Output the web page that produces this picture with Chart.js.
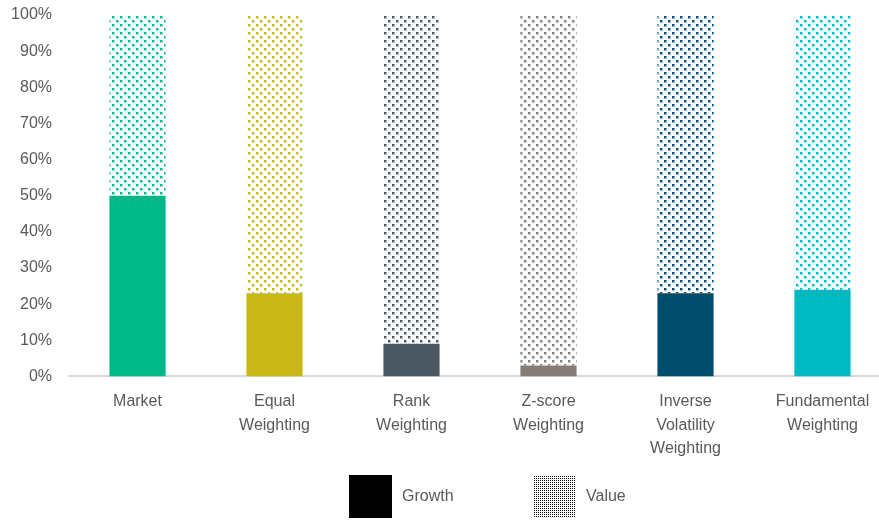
<!DOCTYPE html>
<html>
<head>
<meta charset="utf-8">
<script src="https://cdn.jsdelivr.net/npm/chart.js@4.4.1/dist/chart.umd.min.js"></script>
<style>
  html, body { margin: 0; padding: 0; background: #fff; overflow: hidden; }
  .chartBox { width: 893px; height: 520px; }
</style>
</head>
<body>
<div class="chartBox">
  <canvas id="myChart" width="893" height="520"></canvas>
</div>
<script>
const categories = [
  "Market",
  ["Equal", "Weighting"],
  ["Rank", "Weighting"],
  ["Z-score", "Weighting"],
  ["Inverse", "Volatility", "Weighting"],
  ["Fundamental", "Weighting"]
];
const growth = [50, 23, 9, 3, 23, 24];
const value = [50, 77, 91, 97, 77, 76];
const barColors = ["#00B98A", "#C8B818", "#4B5862", "#857C77", "#004C6D", "#00B9C1"];
const yTicks = [0, 10, 20, 30, 40, 50, 60, 70, 80, 90, 100];

const textColor = "#595959";
const fontFamily = "'Liberation Sans', Arial, sans-serif";

/* repeating tile of staggered soft-edged dots, rows `step` px apart */
function dotPattern(color, step) {
  const tile = document.createElement("canvas");
  tile.width = step * 2;
  tile.height = step * 2;
  const t = tile.getContext("2d");
  t.fillStyle = color;
  [[0, 0], [step, step]].forEach(([x, y]) => {
    t.globalAlpha = 0.4;
    t.fillRect(x, y, 3, 3);
    t.globalAlpha = 1;
    t.fillRect(x, y, 2, 2);
  });
  return t.createPattern(tile, "repeat");
}

/* plain square grid of 1px dots for the legend swatch */
function gridPattern(color) {
  const tile = document.createElement("canvas");
  tile.width = 2;
  tile.height = 2;
  const t = tile.getContext("2d");
  t.fillStyle = color;
  t.fillRect(0, 0, 1, 1);
  return t.createPattern(tile, "repeat");
}

const canvas = document.getElementById("myChart");
const ctx = canvas.getContext("2d");

const valuePatterns = barColors.map(c => dotPattern(c, 4));

/* legend under the axis labels: solid box for Growth, dotted box for Value */
const boxLegend = {
  id: "boxLegend",
  afterDraw(chart) {
    const c = chart.ctx;
    const sets = chart.data.datasets;
    const fills = ["#000000", gridPattern("#000000")];
    const xs = [349, 533];
    const top = 475, size = 43;
    c.save();
    c.font = "16px " + fontFamily;
    c.textBaseline = "middle";
    sets.forEach((ds, i) => {
      c.fillStyle = fills[i];
      c.fillRect(xs[i], top, size, size);
      c.fillStyle = textColor;
      c.fillText(ds.label, xs[i] + size + 10, top + size / 2);
    });
    c.restore();
  }
};

new Chart(ctx, {
  type: "bar",
  data: {
    labels: categories,
    datasets: [
      {
        label: "Growth",
        data: growth,
        backgroundColor: barColors,
        borderWidth: 0
      },
      {
        label: "Value",
        data: value,
        backgroundColor: valuePatterns,
        borderWidth: 0
      }
    ]
  },
  options: {
    responsive: false,
    animation: false,
    layout: { padding: { top: 15, left: 8, right: 2, bottom: 46 } },
    datasets: {
      bar: { categoryPercentage: 1, barPercentage: 0.41 }
    },
    plugins: {
      legend: { display: false },
      tooltip: { enabled: false }
    },
    scales: {
      x: {
        stacked: true,
        grid: { display: false, drawTicks: false },
        border: { display: true, color: "#D9D9D9", width: 2 },
        ticks: {
          color: textColor,
          padding: 14,
          maxRotation: 0,
          autoSkip: false,
          font: { family: fontFamily, size: 16, lineHeight: 1.45 }
        }
      },
      y: {
        stacked: true,
        min: 0,
        max: 100,
        afterBuildTicks(scale) {
          scale.ticks = yTicks.map(v => ({ value: v }));
        },
        afterFit(scale) {
          scale.width = 61;
          scale.paddingTop = 10;
          scale.paddingBottom = 10;
        },
        grid: { display: false, drawTicks: false },
        border: { display: false },
        ticks: {
          color: textColor,
          padding: 17,
          callback: v => v + "%",
          font: { family: fontFamily, size: 16 }
        }
      }
    }
  },
  plugins: [boxLegend]
});
</script>
</body>
</html>
